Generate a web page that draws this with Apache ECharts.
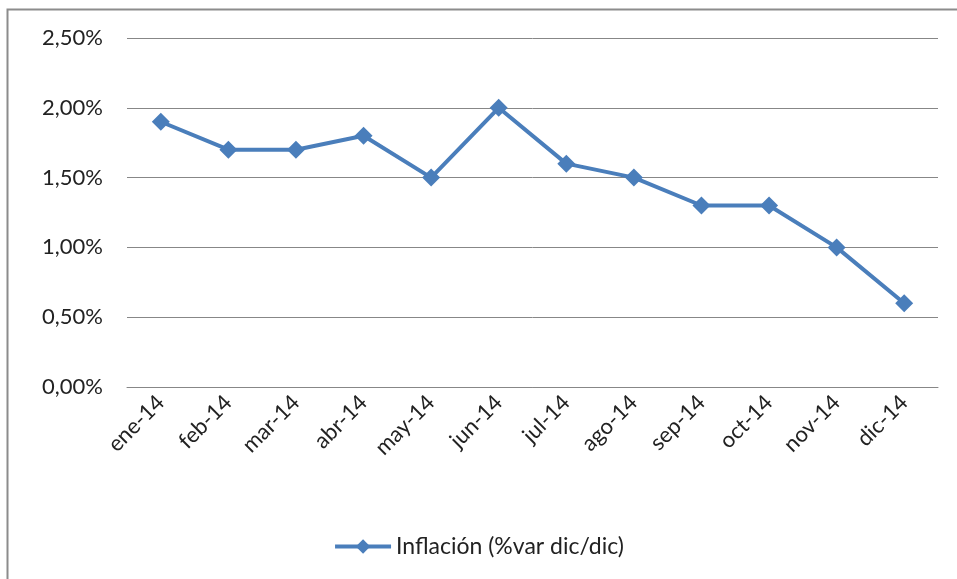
<!DOCTYPE html>
<html>
<head>
<meta charset="utf-8">
<script src="https://cdn.jsdelivr.net/npm/echarts@6/dist/echarts.min.js"></script>
<style>
  html, body { margin: 0; padding: 0; background: #fff; }
  #chart { width: 957px; height: 579px; }
</style>
</head>
<body>
<div id="chart"></div>
<script>
const months = ['ene-14', 'feb-14', 'mar-14', 'abr-14', 'may-14', 'jun-14',
  'jul-14', 'ago-14', 'sep-14', 'oct-14', 'nov-14', 'dic-14'];
const inflacion = [1.9, 1.7, 1.7, 1.8, 1.5, 2.0, 1.6, 1.5, 1.3, 1.3, 1.0, 0.6];
const seriesName = 'Inflación (%var dic/dic)';

const blue = '#4a7ebb';
const font = 'Lato, "Open Sans", sans-serif';

const chart = echarts.init(document.getElementById('chart'));
chart.setOption({
  animation: false,
  textStyle: { fontFamily: font },
  graphic: [{
    type: 'rect',
    shape: { x: 7.5, y: 9.5, width: 1000, height: 1000 },
    style: { fill: 'none', stroke: '#8c8c8c', lineWidth: 2 },
    silent: true
  }],
  grid: { left: 127, right: 19, top: 38, bottom: 192 },
  legend: {
    bottom: 16,
    left: 'center',
    itemWidth: 56,
    itemHeight: 18,
    itemGap: 6,
    lineStyle: { width: 4 },
    textStyle: { fontFamily: font, fontSize: 23, color: '#222' },
    data: [seriesName]
  },
  xAxis: {
    type: 'category',
    data: months,
    boundaryGap: true,
    axisLine: { show: true, lineStyle: { color: '#878787', width: 1 } },
    axisTick: { show: false },
    axisLabel: { rotate: 45, fontFamily: font, fontSize: 22, color: '#222', margin: 12, interval: 0 }
  },
  yAxis: {
    type: 'value',
    min: 0,
    max: 2.5,
    interval: 0.5,
    axisLine: { show: false },
    axisTick: { show: false },
    splitLine: { lineStyle: { color: '#878787', width: 1 } },
    axisLabel: {
      fontFamily: font, fontSize: 22, color: '#222', margin: 24,
      formatter: v => v.toFixed(2).replace('.', ',') + '%'
    }
  },
  series: [{
    name: seriesName,
    type: 'line',
    data: inflacion,
    symbol: 'diamond',
    symbolSize: 18,
    lineStyle: { color: blue, width: 4 },
    itemStyle: { color: blue }
  }]
});
</script>
</body>
</html>
